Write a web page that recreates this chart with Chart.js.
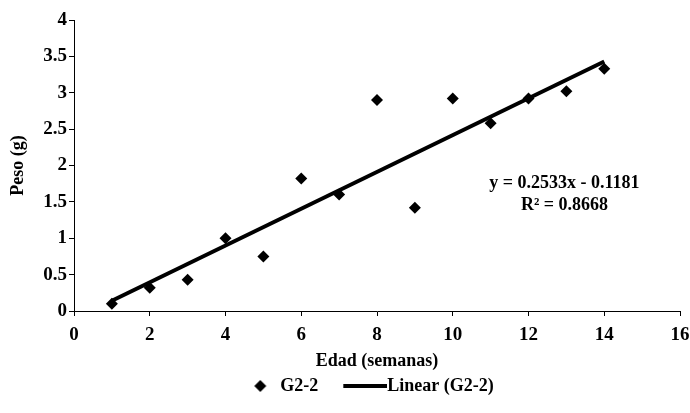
<!DOCTYPE html>
<html>
<head>
<meta charset="utf-8">
<script src="https://cdn.jsdelivr.net/npm/chart.js@4.4.1/dist/chart.umd.min.js"></script>
<style>
  html, body { margin: 0; padding: 0; background: #fff; }
  #wrap { width: 690px; height: 413px; }
</style>
</head>
<body>
<div id="wrap"><canvas id="chart" width="690" height="413"></canvas></div>
<script>
// === Data ===
const weeks = [1, 2, 3, 4, 5, 6, 7, 8, 9, 10, 11, 12, 13, 14];
const weights = [0.1, 0.32, 0.43, 1.0, 0.75, 1.82, 1.6, 2.9, 1.42, 2.92, 2.58, 2.92, 3.02, 3.33];
const trendX = [1, 14];
const trendY = [0.14, 3.43];
const equationLines = ["y = 0.2533x - 0.1181", "R² = 0.8668"];

const serif = "'Liberation Serif', 'Times New Roman', serif";

// === Legend symbols (small canvases) ===
// legend box is 55 wide, image 73 wide centred on it
function makeSymbol(kind) {
  const c = document.createElement("canvas");
  c.width = 73;
  c.height = 14;
  const g = c.getContext("2d");
  g.fillStyle = "#000";
  if (kind === "diamond") {
    const cx = 53, cy = 7, r = 6;
    g.beginPath();
    g.moveTo(cx, cy - r);
    g.lineTo(cx + r, cy);
    g.lineTo(cx, cy + r);
    g.lineTo(cx - r, cy);
    g.closePath();
    g.fill();
  } else {
    g.fillRect(29, 5, 44, 4);
  }
  return c;
}
const legendSymbols = [makeSymbol("diamond"), makeSymbol("line")];

// === Equation label + legend nudge ===
const equationPlugin = {
  id: "equation",
  afterLayout(chart) {
    // the visible legend sits a bit left of centre in the original
    chart.legend.left -= 22;
    chart.legend.right -= 22;
  },
  afterDatasetsDraw(chart) {
    const { ctx, scales } = chart;
    const cx = scales.x.getPixelForValue(12.95);
    const cy = scales.y.getPixelForValue(1.76);
    ctx.save();
    ctx.fillStyle = "#000";
    ctx.font = "bold 18px " + serif;
    ctx.textAlign = "center";
    ctx.textBaseline = "middle";
    ctx.fillText(equationLines[0], cx, cy);
    ctx.fillText(equationLines[1], cx, cy + 22);
    ctx.restore();
  }
};

const ctx = document.getElementById("chart").getContext("2d");
new Chart(ctx, {
  type: "scatter",
  data: {
    datasets: [
      {
        label: "G2-2",
        data: weeks.map((w, i) => ({ x: w, y: weights[i] })),
        pointStyle: "rectRot",
        pointRadius: 6,
        pointHoverRadius: 6,
        backgroundColor: "#000",
        borderColor: "#000",
        borderWidth: 0,
        showLine: false,
        order: 1
      },
      {
        label: "Linear (G2-2)",
        data: trendX.map((w, i) => ({ x: w, y: trendY[i] })),
        showLine: true,
        borderColor: "#000",
        backgroundColor: "#000",
        borderWidth: 4,
        pointRadius: 0,
        order: 2
      }
    ]
  },
  options: {
    responsive: false,
    animation: false,
    devicePixelRatio: 1,
    layout: { padding: { left: 8, right: 0, top: 20, bottom: 8 } },
    plugins: {
      title: { display: false },
      tooltip: { enabled: false },
      legend: {
        display: true,
        position: "bottom",
        fullSize: false,
        labels: {
          usePointStyle: true,
          pointStyleWidth: 55,
          color: "#000",
          font: { family: serif, size: 18, weight: "bold" },
          padding: 5,
          generateLabels(chart) {
            return chart.data.datasets.map((ds, i) => ({
              text: ds.label,
              pointStyle: legendSymbols[i],
              fillStyle: "#000",
              strokeStyle: "#000",
              lineWidth: 0,
              fontColor: "#000",
              datasetIndex: i,
              hidden: false
            }));
          }
        }
      }
    },
    scales: {
      x: {
        type: "linear",
        min: 0,
        max: 16,
        ticks: { stepSize: 2, color: "#000", font: { family: serif, size: 19, weight: "bold" }, padding: 8 },
        grid: { display: true, drawOnChartArea: false, drawTicks: true, tickLength: 5, color: "#000" },
        border: { display: true, color: "#000", width: 1 },
        title: { display: true, text: "Edad (semanas)", color: "#000", font: { family: serif, size: 18, weight: "bold" }, padding: { top: 0, bottom: 0 } },
        afterFit(scale) {
          scale.height = 61;
          scale.paddingRight = 10;
        }
      },
      y: {
        type: "linear",
        min: 0,
        max: 4,
        ticks: {
          stepSize: 0.5,
          color: "#000",
          font: { family: serif, size: 19, weight: "bold" },
          padding: 2,
          callback: v => String(v)
        },
        grid: { display: true, drawOnChartArea: false, drawTicks: true, tickLength: 5, color: "#000" },
        border: { display: true, color: "#000", width: 1 },
        title: { display: true, text: "Peso (g)", color: "#000", font: { family: serif, size: 18, weight: "bold" }, padding: { top: 0, bottom: 0 } },
        afterFit(scale) { scale.width = 66; }
      }
    }
  },
  plugins: [equationPlugin]
});
</script>
</body>
</html>
